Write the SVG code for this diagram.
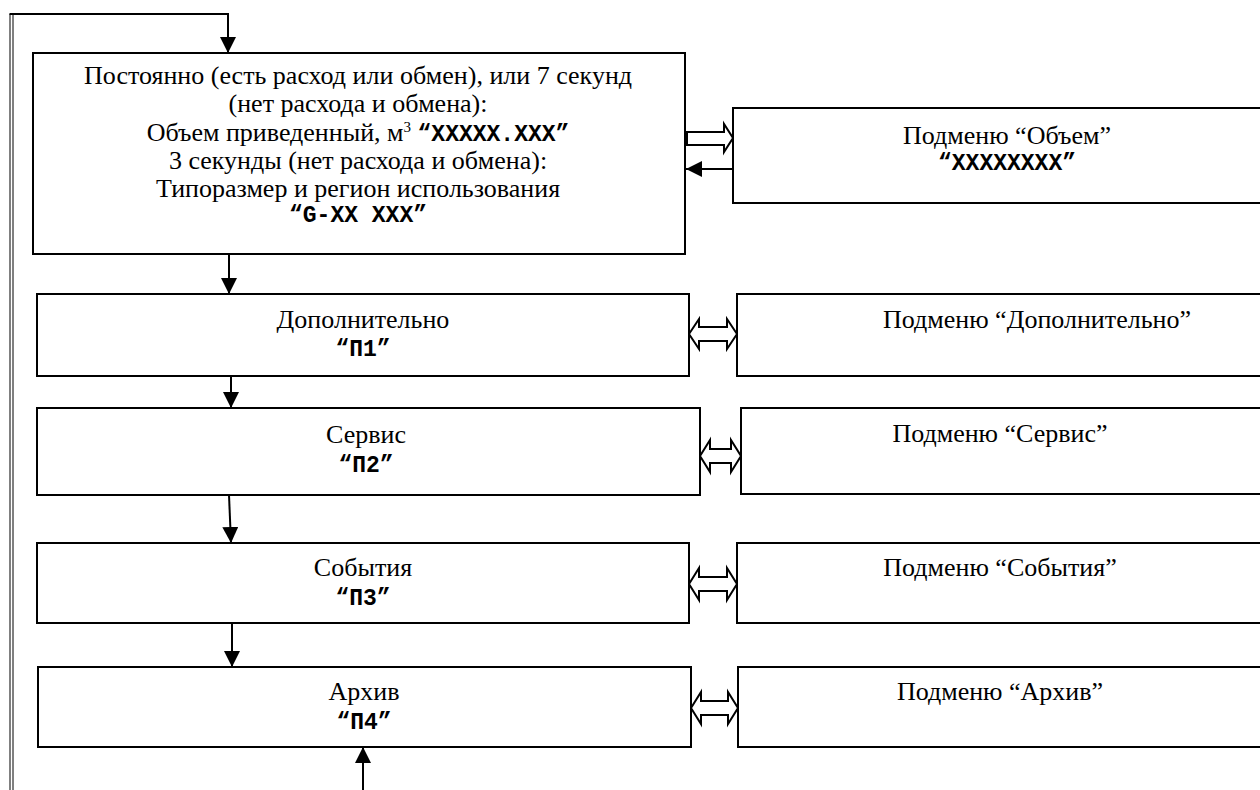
<svg xmlns="http://www.w3.org/2000/svg" width="1260" height="790" viewBox="0 0 1260 790">
<style>
.box{fill:#fff;stroke:#000;stroke-width:2}
.t{font-family:"Liberation Serif","Times New Roman",serif;font-size:26px;text-anchor:middle;fill:#000}
.m{font-family:"Liberation Mono","Courier New",monospace;font-size:23px;font-weight:bold;fill:#000}
.ln{fill:none;stroke:#000;stroke-width:2}
.ha{fill:#fff;stroke:#000;stroke-width:2;stroke-linejoin:miter}
</style>
<defs>
<marker id="ah" viewBox="0 0 16 16" refX="16" refY="8" markerWidth="16" markerHeight="16" markerUnits="userSpaceOnUse" orient="auto">
<path d="M0,0 L16,8 L0,16 Z" fill="#000"/>
</marker>
</defs>
<g id="connectors">
<line x1="10" y1="14" x2="10" y2="790" stroke="#000" stroke-width="1"/>
<line x1="13" y1="15" x2="13" y2="790" stroke="#000" stroke-width="1"/>
<path class="ln" d="M9.5,14 L228,14 L228,53" marker-end="url(#ah)"/>
<line class="ln" x1="229" y1="254" x2="229" y2="294" marker-end="url(#ah)"/>
<line class="ln" x1="231" y1="376" x2="231" y2="408" marker-end="url(#ah)"/>
<line class="ln" x1="229" y1="495" x2="231" y2="543" marker-end="url(#ah)"/>
<line class="ln" x1="232" y1="623" x2="232" y2="667" marker-end="url(#ah)"/>
<line class="ln" x1="363" y1="790" x2="363" y2="747" marker-end="url(#ah)"/>
<path class="ha" d="M687,132 L724,132 L724,124 L733,138 L724,152 L724,145 L687,145 Z"/>
<line class="ln" x1="733" y1="169" x2="686" y2="169" marker-end="url(#ah)"/>
<path class="ha" d="M689,334 L699,319 L699,327 L727,327 L727,319 L737,334 L727,349 L727,341 L699,341 L699,349 Z"/>
<path class="ha" d="M700,456 L710,440 L710,449 L731,449 L731,440 L741,456 L731,472 L731,463 L710,463 L710,472 Z"/>
<path class="ha" d="M689,584 L699,568 L699,577 L727,577 L727,568 L737,584 L727,600 L727,591 L699,591 L699,600 Z"/>
<path class="ha" d="M691,708 L701,692 L701,701 L728,701 L728,692 L738,708 L728,724 L728,715 L701,715 L701,724 Z"/>
</g>
<g id="main">
<rect class="box" x="33" y="53" width="652" height="201"/>
<text class="t" x="358" y="84">Постоянно (есть расход или обмен), или 7 секунд</text>
<text class="t" x="358" y="112">(нет расхода и обмена):</text>
<text class="t" x="358" y="141">Объем приведенный, м<tspan font-size="15" dy="-9">3</tspan><tspan dy="9"> </tspan><tspan class="m">“XXXXX.XXX”</tspan></text>
<text class="t" x="358" y="169">3 секунды (нет расхода и обмена):</text>
<text class="t" x="358" y="197">Типоразмер и регион использования</text>
<text class="t m" x="358" y="222" text-anchor="middle">“G-XX XXX”</text>
</g>
<g id="sub-volume">
<rect class="box" x="733" y="108" width="560" height="95"/>
<text class="t" x="1007" y="144">Подменю “Объем”</text>
<text class="t m" x="1007" y="170" text-anchor="middle">“XXXXXXXX”</text>
</g>
<g id="p1">
<rect class="box" x="37" y="294" width="652" height="82"/>
<text class="t" x="363" y="328">Дополнительно</text>
<text class="t m" x="363" y="356" text-anchor="middle">“П1”</text>
</g>
<g id="sub-p1">
<rect class="box" x="737" y="294" width="560" height="82"/>
<text class="t" x="1037" y="328">Подменю “Дополнительно”</text>
</g>
<g id="p2">
<rect class="box" x="37" y="408" width="663" height="87"/>
<text class="t" x="366" y="443">Сервис</text>
<text class="t m" x="366" y="472" text-anchor="middle">“П2”</text>
</g>
<g id="sub-p2">
<rect class="box" x="741" y="408" width="560" height="86"/>
<text class="t" x="1000" y="442">Подменю “Сервис”</text>
</g>
<g id="p3">
<rect class="box" x="37" y="543" width="652" height="80"/>
<text class="t" x="363" y="576">События</text>
<text class="t m" x="363" y="605" text-anchor="middle">“П3”</text>
</g>
<g id="sub-p3">
<rect class="box" x="737" y="543" width="560" height="80"/>
<text class="t" x="1000" y="576">Подменю “События”</text>
</g>
<g id="p4">
<rect class="box" x="38" y="667" width="653" height="80"/>
<text class="t" x="364" y="700">Архив</text>
<text class="t m" x="364" y="729" text-anchor="middle">“П4”</text>
</g>
<g id="sub-p4">
<rect class="box" x="738" y="667" width="560" height="80"/>
<text class="t" x="1000" y="700">Подменю “Архив”</text>
</g>
</svg>
